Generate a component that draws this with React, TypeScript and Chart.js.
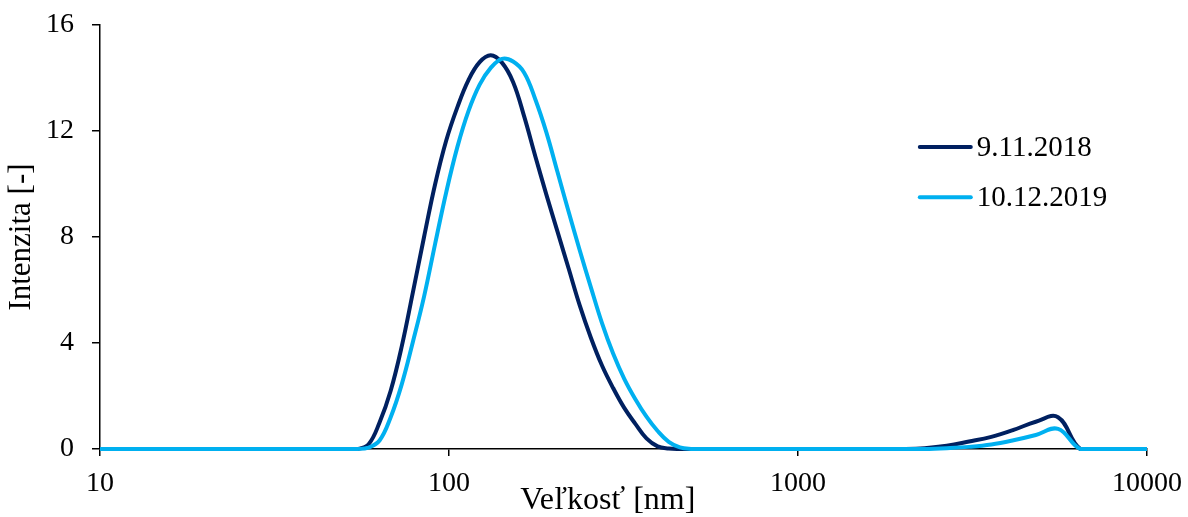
import React, { useEffect, useRef } from "react";
import { Chart, registerables } from "chart.js";

Chart.register(...registerables);

const sizes = [
  10, 11.7, 13.54, 15.69, 18.17, 21.04, 24.36, 28.21, 32.67, 37.84, 43.82,
  50.75, 54.61, 58.77, 63.24, 68.06, 73.24, 78.82, 84.82, 91.28, 98.23, 105.7, 113.7, 122.4, 131.7, 141.8, 152.6, 164.2, 176.7, 190.1, 204.6, 220.2, 236.9, 255.0, 274.4, 295.3, 317.8, 342.0, 368.0, 396.1, 426.2, 458.7, 493.6, 531.2,
  615.1, 712.4, 825.0, 955.4, 1106, 1281, 1484, 1718, 1990, 2305, 2669, 3091, 3580, 4145, 4801, 5560, 6439, 7456, 8635, 10000,
];

const series2018 = [
  0, 0, 0, 0, 0, 0, 0, 0, 0, 0, 0,
  0, 0, 0.17, 1.0, 2.2, 3.88, 5.92, 8.0, 10.0, 11.65, 12.9, 13.92, 14.6, 14.86, 14.58, 13.85, 12.55, 11.05, 9.6, 8.2, 6.81, 5.42, 4.2, 3.15, 2.3, 1.55, 0.95, 0.4, 0.1, 0.02, 0, 0, 0,
  0, 0, 0, 0, 0, 0, 0, 0, 0, 0.03, 0.12, 0.28, 0.46, 0.72, 1.03, 1.2, 0, 0, 0, 0,
];

const series2019 = [
  0, 0, 0, 0, 0, 0, 0, 0, 0, 0, 0,
  0, 0, 0.05, 0.32, 1.2, 2.45, 4.05, 5.75, 7.75, 9.7, 11.4, 12.75, 13.75, 14.38, 14.72, 14.62, 14.2, 13.2, 11.95, 10.45, 8.95, 7.5, 6.1, 4.75, 3.6, 2.65, 1.88, 1.22, 0.68, 0.27, 0.06, 0, 0,
  0, 0, 0, 0, 0, 0, 0, 0, 0, 0, 0.03, 0.08, 0.17, 0.33, 0.53, 0.76, 0, 0, 0, 0,
];

const seriesNames = ["9.11.2018", "10.12.2019"];
const seriesColors = ["#002060", "#00B0F0"];
const xTicks = [10, 100, 1000, 10000];
const yTicks = [0, 4, 8, 12, 16];
const xTitle = "Veľkosť [nm]";
const yTitle = "Intenzita [-]";

const FONT = "'Liberation Serif', 'Times New Roman', serif";

const overlayPlugin = {
  id: "overlay",
  afterDraw(chart: any) {
    const ctx = chart.ctx;
    const area = chart.chartArea;
    const w = area.right - area.left;
    const h = area.bottom - area.top;
    const x0 = area.left + w * 0.783;
    const rows = [area.top + h * 0.288, area.top + h * 0.406];
    ctx.save();
    chart.data.datasets.forEach((ds: any, i: number) => {
      const y = rows[i];
      ctx.strokeStyle = ds.borderColor;
      ctx.lineWidth = 4;
      ctx.lineCap = "round";
      ctx.beginPath();
      ctx.moveTo(x0, y);
      ctx.lineTo(x0 + 51, y);
      ctx.stroke();
      ctx.fillStyle = "#000";
      ctx.font = `29px ${FONT}`;
      ctx.textBaseline = "middle";
      ctx.textAlign = "left";
      ctx.fillText(ds.label, x0 + 57, y + 1);
    });
    // x axis title
    ctx.fillStyle = "#000";
    ctx.font = `32px ${FONT}`;
    ctx.textAlign = "center";
    ctx.textBaseline = "alphabetic";
    ctx.fillText(xTitle, area.left + w * 0.485, chart.height - 8);
    ctx.restore();
  },
};

export default function App() {
  const ref = useRef<HTMLCanvasElement | null>(null);
  useEffect(() => {
    document.body.style.margin = "0";
    const canvas = ref.current!;
    const chart = new Chart(canvas, {
      type: "line",
      data: {
        datasets: [
          {
            label: seriesNames[0],
            data: sizes.map((s, i) => ({ x: s, y: series2018[i] })),
            borderColor: seriesColors[0],
            backgroundColor: seriesColors[0],
            borderWidth: 4,
            pointRadius: 0,
            tension: 0.4,
            clip: false,
            order: 1,
          },
          {
            label: seriesNames[1],
            data: sizes.map((s, i) => ({ x: s, y: series2019[i] })),
            borderColor: seriesColors[1],
            backgroundColor: seriesColors[1],
            borderWidth: 4,
            pointRadius: 0,
            tension: 0.4,
            clip: false,
            order: 0,
          },
        ],
      },
      options: {
        responsive: false,
        animation: false,
        devicePixelRatio: 1,
        layout: { padding: { top: 25, right: 41, left: 0, bottom: 0 } },
        plugins: { legend: { display: false }, tooltip: { enabled: false } },
        scales: {
          x: {
            type: "logarithmic",
            min: 10,
            max: 10000,
            afterBuildTicks: (scale: any) => {
              scale.ticks = xTicks.map((v) => ({ value: v }));
            },
            afterFit: (scale: any) => {
              scale.height = 68;
              scale.paddingLeft = 0;
              scale.paddingRight = 0;
            },
            ticks: {
              color: "#000",
              font: { family: FONT, size: 28 },
              padding: 11,
              maxRotation: 0,
              autoSkip: false,
              callback: (v: any) => String(v),
            },
            grid: { display: true, drawOnChartArea: false, drawTicks: true, tickLength: 7, color: "#000", lineWidth: 1.5 },
            border: { display: true, color: "#000", width: 1.5 },
            title: { display: false, text: xTitle },
          },
          y: {
            min: 0,
            max: 16,
            afterBuildTicks: (scale: any) => {
              scale.ticks = yTicks.map((v) => ({ value: v }));
            },
            afterFit: (scale: any) => {
              scale.width = 100;
              scale.paddingTop = 0;
              scale.paddingBottom = 0;
            },
            ticks: {
              color: "#000",
              font: { family: FONT, size: 28 },
              padding: 18,
              callback: (v: any) => String(v),
            },
            grid: { display: true, drawOnChartArea: false, drawTicks: true, tickLength: 8, color: "#000", lineWidth: 1.5 },
            border: { display: true, color: "#000", width: 1.5 },
            title: {
              display: true,
              text: yTitle,
              color: "#000",
              font: { family: FONT, size: 31, lineHeight: 1.0 },
              padding: { top: 6, bottom: 0 },
            },
          },
        },
      } as any,
      plugins: [overlayPlugin],
    });
    return () => chart.destroy();
  }, []);
  return (
    <div style={{ width: 1188, height: 517 }}>
      <canvas ref={ref} width={1188} height={517} style={{ display: "block" }} />
    </div>
  );
}
